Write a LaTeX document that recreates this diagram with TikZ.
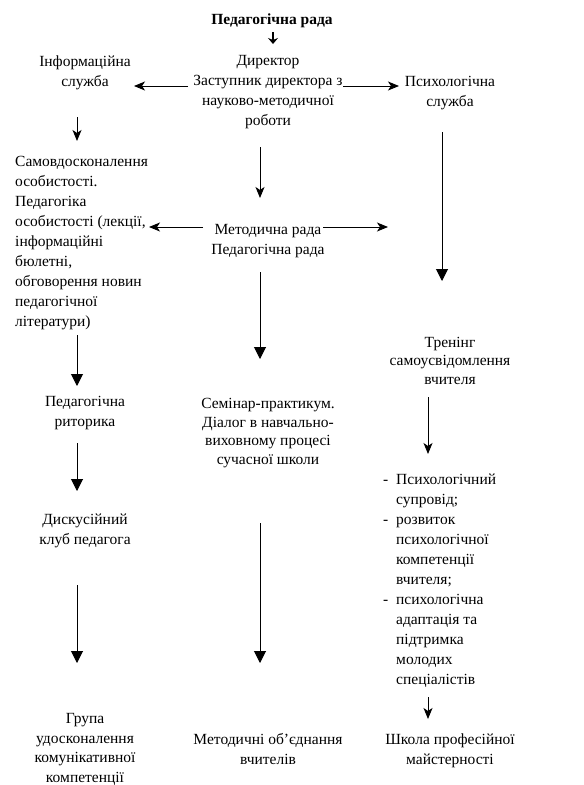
\documentclass[tikz,border=0pt]{standalone}
\usepackage{fontspec}
\setmainfont{Liberation Serif}
\newfontfamily\tnr{Liberation Serif}
\usetikzlibrary{arrows.meta}
\begin{document}
\begin{tikzpicture}[x=1pt,y=-1pt,
  txt/.style={inner sep=0pt, align=center, font=\tnr\fontsize{15.5}{20}\selectfont},
  txtl/.style={inner sep=0pt, align=left, font=\tnr\fontsize{15.5}{20}\selectfont},
  smallarr/.style={line width=1pt, -{Stealth[length=11pt,width=9pt,inset=3pt]}},
  bigarr/.style={line width=1pt, -{Triangle[length=12pt,width=12pt]}},
  thickarr/.style={line width=2.6pt, -{Stealth[length=6pt,width=10pt,inset=2pt]}}]
\useasboundingbox (0,0) rectangle (584,785);
\fill[white] (0,0) rectangle (584,785);

% nodes (anchor=base is the baseline of the last line)
\node[txt, anchor=base, font=\tnr\fontsize{15.5}{20}\selectfont\bfseries] (title) at (272,24) {Педагогічна рада};
\node[txt, anchor=base] (info) at (85,86) {Інформаційна\\служба};
\node[txt, anchor=base] (dir) at (268,125) {Директор\\Заступник директора з\\науково-методичної\\роботи};
\node[txt, anchor=base] (psy) at (450,106) {Психологічна\\служба};
\node[txtl, anchor=base west] (self) at (15,326) {Самовдосконалення\\особистості.\\Педагогіка\\особистості (лекції,\\інформаційні\\бюлетні,\\обговорення новин\\педагогічної\\літератури)};
\node[txt, anchor=base] (met) at (268,254) {Методична рада\\Педагогічна рада};
\node[txt, anchor=base] (rhet) at (85,426) {Педагогічна\\риторика};
\node[txt, anchor=base, font=\tnr\fontsize{15.5}{18.5}\selectfont] (sem) at (268,464) {Семінар-практикум.\\Діалог в навчально-\\виховному процесі\\сучасної школи};
\node[txt, anchor=base, font=\tnr\fontsize{15.5}{18.5}\selectfont] (tr) at (450,384) {Тренінг\\самоусвідомлення\\вчителя};
\node[txt, anchor=base] (club) at (85,544) {Дискусійний\\клуб педагога};
\node[txtl, anchor=base west] (list) at (383,684) {\makebox[13pt][l]{-}Психологічний\\\makebox[13pt]{}супровід;\\\makebox[13pt][l]{-}розвиток\\\makebox[13pt]{}психологічної\\\makebox[13pt]{}компетенції\\\makebox[13pt]{}вчителя;\\\makebox[13pt][l]{-}психологічна\\\makebox[13pt]{}адаптація та\\\makebox[13pt]{}підтримка\\\makebox[13pt]{}молодих\\\makebox[13pt]{}спеціалістів};
\node[txt, anchor=base, font=\tnr\fontsize{15.5}{19.5}\selectfont] (grp) at (85,782) {Група\\удосконалення\\комунікативної\\компетенції};
\node[txt, anchor=base] (mo) at (268,764) {Методичні об’єднання\\вчителів};
\node[txt, anchor=base] (school) at (450,764) {Школа професійної\\майстерності};

% connector end points
\coordinate (t1) at (273,32);  \coordinate (t2) at (273,44);
\coordinate (a1) at (188,86);  \coordinate (a2) at (134,86);
\coordinate (b1) at (343,86);  \coordinate (b2) at (399,86);
\coordinate (c1) at (77,117);  \coordinate (c2) at (77,141);
\coordinate (d1) at (260,147); \coordinate (d2) at (260,198);
\coordinate (e1) at (442,132); \coordinate (e2) at (442,281);
\coordinate (f1) at (203,227); \coordinate (f2) at (149,227);
\coordinate (g1) at (323,227); \coordinate (g2) at (388,227);
\coordinate (h1) at (260,272); \coordinate (h2) at (260,359);
\coordinate (i1) at (77,335);  \coordinate (i2) at (77,386);
\coordinate (j1) at (77,443);  \coordinate (j2) at (77,491);
\coordinate (k1) at (77,585);  \coordinate (k2) at (77,663);
\coordinate (l1) at (260,523); \coordinate (l2) at (260,663);
\coordinate (m1) at (428,397); \coordinate (m2) at (428,454);
\coordinate (n1) at (428,697); \coordinate (n2) at (428,719);

\draw[thickarr] (t1) -- (t2);
\draw[smallarr] (a1) -- (a2);
\draw[smallarr] (b1) -- (b2);
\draw[smallarr] (c1) -- (c2);
\draw[smallarr] (d1) -- (d2);
\draw[bigarr] (e1) -- (e2);
\draw[smallarr] (f1) -- (f2);
\draw[smallarr] (g1) -- (g2);
\draw[bigarr] (h1) -- (h2);
\draw[bigarr] (i1) -- (i2);
\draw[bigarr] (j1) -- (j2);
\draw[bigarr] (k1) -- (k2);
\draw[bigarr] (l1) -- (l2);
\draw[smallarr] (m1) -- (m2);
\draw[smallarr] (n1) -- (n2);
\end{tikzpicture}
\end{document}
